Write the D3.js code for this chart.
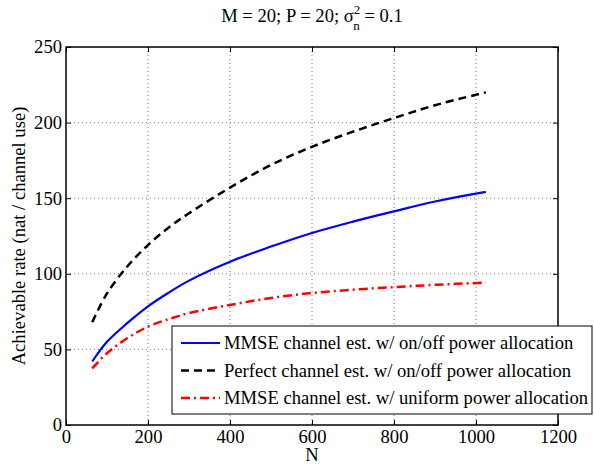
<!DOCTYPE html>
<html><head><meta charset="utf-8">
<script src="https://cdn.jsdelivr.net/npm/d3@7"></script>
<style>body{margin:0;background:#fff;}</style></head>
<body><svg id="c" width="594" height="465"></svg>
<script>
const N = [64, 100, 150, 200, 250, 300, 400, 500, 600, 700, 800, 900, 1024];
const mmseOnOff = [42, 55, 67.5, 78.5, 87.5, 95.5, 108, 118, 127, 134.5, 141.3, 147.8, 154.2];
const perfectOnOff = [68, 87, 105, 119, 130.5, 140, 157, 172, 184, 194, 203, 211.5, 220];
const mmseUniform = [37.4, 47.5, 57.5, 65, 70, 74, 79.4, 84, 87.3, 89.5, 91.2, 92.7, 94.2];
const xTicks = [0, 200, 400, 600, 800, 1000, 1200];
const yTicks = [0, 50, 100, 150, 200, 250];
const legendLabels = ["MMSE channel est. w/ on/off power allocation",
  "Perfect channel est. w/ on/off power allocation",
  "MMSE channel est. w/ uniform power allocation"];

const FONT = "Liberation Serif";
const svg = d3.select("#c");
const L = 66, R = 558, T = 47, B = 425;
const x = d3.scaleLinear().domain([0, 1200]).range([L, R]);
const y = d3.scaleLinear().domain([0, 250]).range([B, T]);
const fs = 18.6;

// grid
const g = svg.append("g");
g.selectAll(".gx").data(xTicks.slice(1, -1)).enter().append("line")
  .attr("x1", d => x(d)).attr("x2", d => x(d)).attr("y1", T).attr("y2", B)
  .attr("stroke", "#555").attr("stroke-width", 0.8).attr("stroke-dasharray", "1,3");
g.selectAll(".gy").data(yTicks.slice(1, -1)).enter().append("line")
  .attr("y1", d => y(d)).attr("y2", d => y(d)).attr("x1", L).attr("x2", R)
  .attr("stroke", "#555").attr("stroke-width", 0.8).attr("stroke-dasharray", "1,3");

// axes
const xAxis = svg.append("g").attr("transform", `translate(0,${B})`)
  .call(d3.axisBottom(x).tickValues(xTicks).tickSize(-5).tickPadding(5).tickFormat(d3.format("d")));
const xAxisTop = svg.append("g").attr("transform", `translate(0,${T})`)
  .call(d3.axisTop(x).tickValues(xTicks).tickSize(-5).tickFormat(""));
const yAxis = svg.append("g").attr("transform", `translate(${L},0)`)
  .call(d3.axisLeft(y).tickValues(yTicks).tickSize(-5).tickPadding(4).tickFormat(d3.format("d")));
const yAxisR = svg.append("g").attr("transform", `translate(${R},0)`)
  .call(d3.axisRight(y).tickValues(yTicks).tickSize(-5).tickFormat(""));
[xAxis, xAxisTop, yAxis, yAxisR].forEach(a => {
  a.attr("font-family", FONT).attr("font-size", fs);
  a.select(".domain").remove();
  a.selectAll(".tick line").attr("stroke", "#000").attr("stroke-width", 1);
  a.selectAll("text").attr("fill", "#000");
});
svg.append("rect").attr("x", L).attr("y", T).attr("width", R - L).attr("height", B - T)
  .attr("fill", "none").attr("stroke", "#000").attr("stroke-width", 1.5);

// lines
const line = d3.line().x((d, i) => x(N[i])).y(d => y(d)).curve(d3.curveCatmullRom);
const series = [
  {v: mmseOnOff, c: "#0000ff", w: 2.2, dash: null},
  {v: perfectOnOff, c: "#000", w: 2.5, dash: "8,5"},
  {v: mmseUniform, c: "#ff0000", w: 2.5, dash: "9,4,2,4"}
];
series.forEach(s => {
  svg.append("path").attr("d", line(s.v)).attr("fill", "none")
    .attr("stroke", s.c).attr("stroke-width", s.w)
    .attr("stroke-dasharray", s.dash);
});

// legend
const lg = svg.append("g").attr("font-family", FONT).attr("font-size", fs);
lg.append("rect").attr("x", 172).attr("y", 326).attr("width", 420).attr("height", 88)
  .attr("fill", "#fff").attr("stroke", "#000").attr("stroke-width", 1);
series.forEach((s, i) => {
  const yy = 343 + i * 27.5;
  lg.append("line").attr("x1", 181).attr("x2", 220).attr("y1", yy).attr("y2", yy)
    .attr("stroke", s.c).attr("stroke-width", s.w).attr("stroke-dasharray", s.dash);
  lg.append("text").attr("x", 224).attr("y", yy + 6).text(legendLabels[i]);
});

// title
const t = svg.append("text").attr("x", 312).attr("y", 22).attr("text-anchor", "middle")
  .attr("font-family", FONT).attr("font-size", fs);
t.append("tspan").text("M = 20; P = 20; σ");
t.append("tspan").attr("dy", -8).attr("font-size", 13).text("2");
t.append("tspan").attr("dx", -7).attr("dy", 16).attr("font-size", 13).text("n");
t.append("tspan").attr("dy", -8).text(" = 0.1");

// axis labels
svg.append("text").attr("x", 312).attr("y", 461).attr("text-anchor", "middle")
  .attr("font-family", FONT).attr("font-size", fs).text("N");
svg.append("text").attr("transform", `translate(25,236) rotate(-90)`).attr("text-anchor", "middle")
  .attr("font-family", FONT).attr("font-size", fs).text("Achievable rate (nat / channel use)");
</script></body></html>
